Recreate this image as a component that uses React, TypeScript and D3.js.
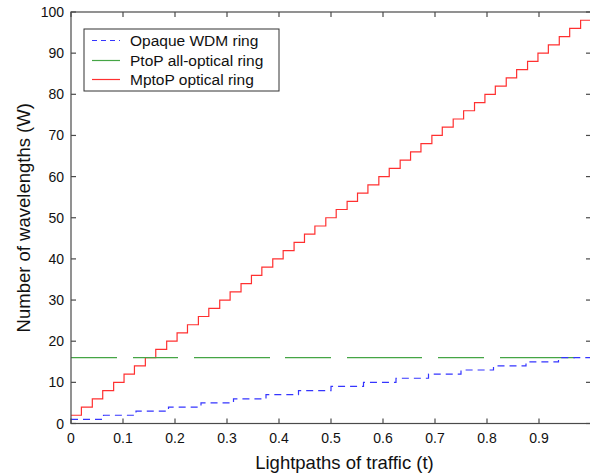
import React from "react";
import * as d3 from "d3";

const xTicks = [0, 0.1, 0.2, 0.3, 0.4, 0.5, 0.6, 0.7, 0.8, 0.9];
const yTicks = [0, 10, 20, 30, 40, 50, 60, 70, 80, 90, 100];

// Opaque WDM ring (step function: value holds from t until next t)
const opaqueT = [0, 0.0625, 0.125, 0.1875, 0.25, 0.3125, 0.375, 0.4375, 0.5, 0.5625, 0.625, 0.6875, 0.75, 0.8125, 0.875, 0.9375];
const opaqueW = [1, 2, 3, 4, 5, 6, 7, 8, 9, 10, 11, 12, 13, 14, 15, 16];

// PtoP all-optical ring
const ptopT = [0, 1];
const ptopW = [16, 16];

// MptoP optical ring (step function)
const mptopT = [0, 0.020, 0.041, 0.061, 0.082, 0.102, 0.122, 0.143, 0.163, 0.184,
  0.204, 0.224, 0.245, 0.265, 0.286, 0.306, 0.327, 0.347, 0.367, 0.388,
  0.408, 0.429, 0.449, 0.469, 0.490, 0.510, 0.531, 0.551, 0.571, 0.592,
  0.612, 0.633, 0.653, 0.673, 0.694, 0.714, 0.735, 0.755, 0.776, 0.796,
  0.816, 0.837, 0.857, 0.878, 0.898, 0.918, 0.939, 0.959, 0.980];
const mptopW = [2, 4, 6, 8, 10, 12, 14, 16, 18, 20,
  22, 24, 26, 28, 30, 32, 34, 36, 38, 40,
  42, 44, 46, 48, 50, 52, 54, 56, 58, 60,
  62, 64, 66, 68, 70, 72, 74, 76, 78, 80,
  82, 84, 86, 88, 90, 92, 94, 96, 98];

const legendLabels = ["Opaque WDM ring", "PtoP all-optical ring", "MptoP optical ring"];

const W = 590, H = 475;
const left = 71, right = 591, top = 12, bottom = 423.5;
const FONT = "'Liberation Sans', Arial, Helvetica, sans-serif";
const AX = "#4a4a4a";

export default function App() {
  const x = d3.scaleLinear().domain([0, 1]).range([left, right]);
  const y = d3.scaleLinear().domain([0, 100]).range([bottom, top]);

  const stepLine = d3.line<[number, number]>()
    .x(d => x(d[0])).y(d => y(d[1])).curve(d3.curveStepAfter);

  const series = (ts: number[], ws: number[]) => {
    const pts: [number, number][] = ts.map((t, i) => [t, ws[i]]);
    pts.push([1, ws[ws.length - 1]]);
    return stepLine(pts) || "";
  };

  const opaquePath = series(opaqueT, opaqueW);
  const ptopPath = d3.line<[number, number]>().x(d => x(d[0])).y(d => y(d[1]))(ptopT.map((t, i) => [t, ptopW[i]] as [number, number])) || "";
  const mptopPath = series(mptopT, mptopW);

  const colors = ["#3535ff", "#45a545", "#ff3030"];

  const legX = 84, legY = 29, legW = 195, legH = 62;
  const rowY = [40.5, 60.5, 79.5];

  return (
    <svg width={W} height={H} style={{ position: "absolute", left: 0, top: 0, background: "#fff" }}
      fontFamily={FONT}>
      <rect x={0} y={0} width={W} height={H} fill="#fff" />
      {/* data */}
      <path d={mptopPath} fill="none" stroke={colors[2]} strokeWidth={1.2} />
      <path d={ptopPath} fill="none" stroke={colors[1]} strokeWidth={1.4}
        strokeDasharray="46 16 45 16 76 15 46 16 75 16 46 16 75 40" />
      <path d={opaquePath} fill="none" stroke={colors[0]} strokeWidth={1.2} strokeDasharray="7 5" />

      {/* axes box */}
      <rect x={left} y={top} width={right - left} height={bottom - top} fill="none" stroke={AX} strokeWidth={1.2} />
      {xTicks.map(t => (
        <g key={"x" + t}>
          <line x1={x(t)} x2={x(t)} y1={bottom} y2={bottom - 5} stroke={AX} strokeWidth={1.2} />
          <line x1={x(t)} x2={x(t)} y1={top} y2={top + 5} stroke={AX} strokeWidth={1.2} />
          <text x={x(t)} y={442.5} textAnchor="middle" fontSize={14} fill="#111">{t === 0 ? "0" : d3.format(".1f")(t)}</text>
        </g>
      ))}
      {yTicks.map(v => (
        <g key={"y" + v}>
          <line x1={left} x2={left + 5} y1={y(v)} y2={y(v)} stroke={AX} strokeWidth={1.2} />
          <line x1={right} x2={right - 5} y1={y(v)} y2={y(v)} stroke={AX} strokeWidth={1.2} />
          <text x={64} y={y(v) + 5} textAnchor="end" fontSize={14} fill="#111">{v}</text>
        </g>
      ))}

      {/* axis titles */}
      <text x={344.5} y={469} textAnchor="middle" fontSize={18.5} fill="#111">Lightpaths of traffic (t)</text>
      <text transform={`translate(29.5,${(top + bottom) / 2}) rotate(-90)`} textAnchor="middle" fontSize={18.5} fill="#111">Number of wavelengths (W)</text>

      {/* legend */}
      <rect x={legX} y={legY} width={legW} height={legH} fill="#fff" stroke="#333" strokeWidth={1} />
      {legendLabels.map((l, i) => (
        <g key={l}>
          <line x1={92} x2={120} y1={rowY[i]} y2={rowY[i]} stroke={colors[i]} strokeWidth={1.2}
            strokeDasharray={i === 0 ? "5 4" : undefined} />
          <text x={130} y={rowY[i] + 5.5} fontSize={15.5} fill="#111">{l}</text>
        </g>
      ))}
    </svg>
  );
}
